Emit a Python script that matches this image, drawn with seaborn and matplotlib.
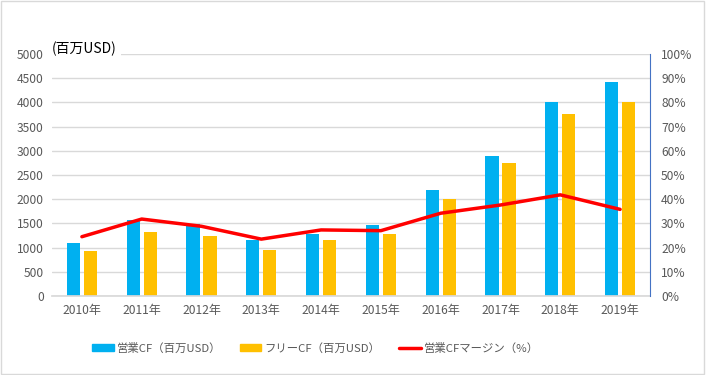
import numpy as np
import pandas as pd
import matplotlib
matplotlib.use("Agg")
import matplotlib.pyplot as plt
import matplotlib.patches as mpatches
import matplotlib.lines as mlines
from matplotlib.ticker import FixedLocator
import seaborn as sns

# data
years = ["2010年", "2011年", "2012年", "2013年", "2014年",
         "2015年", "2016年", "2017年", "2018年", "2019年"]
op_cf = [1100, 1560, 1490, 1150, 1290, 1470, 2200, 2900, 4010, 4420]
free_cf = [940, 1330, 1230, 960, 1150, 1290, 2000, 2740, 3760, 4010]
op_margin = [24.5, 31.8, 28.8, 23.5, 27.3, 27.0, 34.2, 37.6, 41.8, 35.8]

label_op = "営業CF（百万USD）"
label_free = "フリーCF（百万USD）"
label_margin = "営業CFマージン（%）"

blue = "#00B0F0"
orange = "#FFC000"
red = "#FF0000"
grey_text = "#595959"

sns.set_theme(style="white")
plt.rcParams["font.family"] = ["Noto Sans CJK JP", "DejaVu Sans"]

df = pd.DataFrame({
    "year": years * 2,
    "value": op_cf + free_cf,
    "series": [label_op] * len(years) + [label_free] * len(years),
})

fig = plt.figure(figsize=(7.06, 3.75), dpi=100)
ax = fig.add_axes([52 / 706, 1 - 296 / 375, 598 / 706, 242 / 375])

sns.barplot(data=df, x="year", y="value", hue="series",
            palette=[blue, orange], width=0.57, gap=0.23,
            saturation=1, linewidth=0, ax=ax, legend=False)

ax.set_ylim(0, 5000)
ax.set_xlim(-0.5, len(years) - 0.5)
ax.set_yticks(np.arange(0, 5001, 500))
ax.yaxis.grid(True, color="#D9D9D9", linewidth=1)
ax.set_axisbelow(True)
ax.set_xlabel("")
ax.set_ylabel("")
for side in ["left", "top", "right"]:
    ax.spines[side].set_visible(False)
ax.spines["bottom"].set_color("#D9D9D9")
ax.tick_params(axis="both", labelsize=8.7, colors=grey_text, length=0, pad=6)
ax.xaxis.set_minor_locator(FixedLocator(np.arange(-0.5, len(years), 1)))
ax.tick_params(axis="x", which="minor", length=4, color="#D9D9D9")

ax2 = ax.twinx()
sns.lineplot(x=np.arange(len(years)), y=op_margin, color=red,
             linewidth=2.5, ax=ax2)
ax2.set_ylim(0, 100)
ax2.set_yticks(np.arange(0, 101, 10))
ax2.set_yticklabels([f"{v}%" for v in range(0, 101, 10)])
ax2.tick_params(axis="y", labelsize=8.7, colors=grey_text, length=0, pad=8)
for side in ["left", "top", "bottom"]:
    ax2.spines[side].set_visible(False)
ax2.spines["right"].set_color("#4472C4")
ax2.spines["right"].set_linewidth(0.8)
ax2.grid(False)

fig.text(52 / 706, 1 - 49 / 375, "(百万USD)", fontsize=10, color="black",
         va="center", ha="left",
         bbox=dict(facecolor="white", edgecolor="none", pad=3))

handles = [
    mpatches.Patch(color=blue, label=label_op),
    mpatches.Patch(color=orange, label=label_free),
    mlines.Line2D([], [], color=red, linewidth=2.5, label=label_margin),
]
fig.legend(handles=handles, loc="center left",
           bbox_to_anchor=(92 / 706, 1 - 348 / 375),
           ncol=3, frameon=False, fontsize=8.2, labelcolor=grey_text,
           handlelength=1.9, handleheight=0.6, handletextpad=0.3,
           columnspacing=1.6, borderpad=0, borderaxespad=0)

fig.patches.append(mpatches.Rectangle((0.002, 0.003), 0.995, 0.994,
                                      transform=fig.transFigure, fill=False,
                                      edgecolor="#D9D9D9", linewidth=1))

fig.savefig("out.png", dpi=100, facecolor="white")
